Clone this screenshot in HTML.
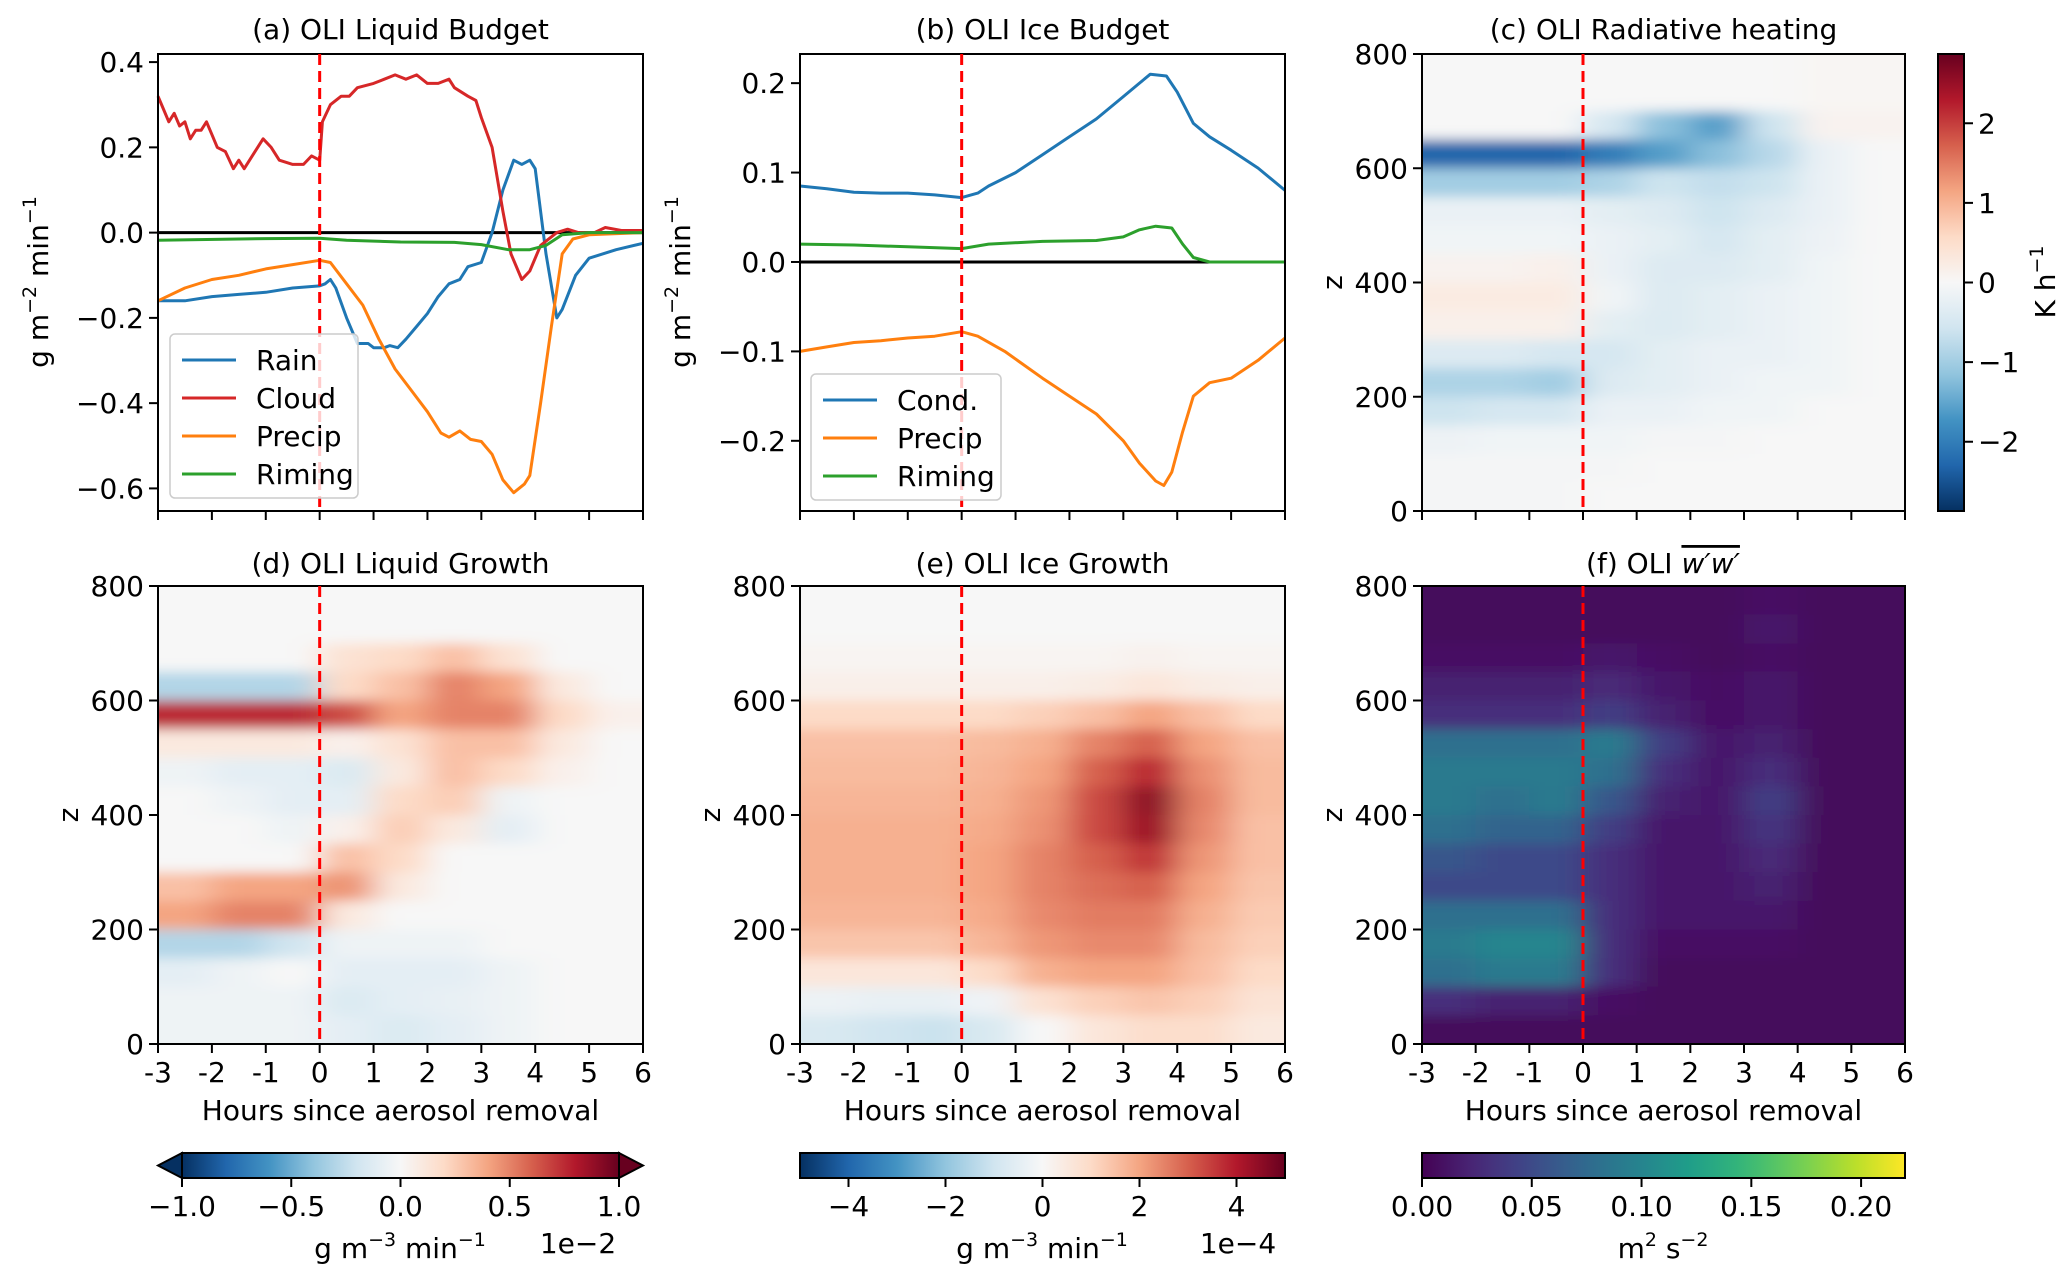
<!DOCTYPE html>
<html><head><meta charset="utf-8"><style>
html,body{margin:0;padding:0;background:#fff}
svg{display:block;font-family:"DejaVu Sans","Liberation Sans",sans-serif}
</style></head><body>
<svg id="fig" width="2067" height="1277" viewBox="0 0 2067 1277" xmlns="http://www.w3.org/2000/svg">
<defs><filter id="blur" x="-5%" y="-5%" width="110%" height="110%"><feGaussianBlur stdDeviation="16 6"/></filter></defs>
</svg>
<script>
// ---------- data ----------
const cloudT=[-3,-2.9,-2.8,-2.7,-2.6,-2.5,-2.4,-2.3,-2.2,-2.1,-2,-1.9,-1.75,-1.6,-1.5,-1.4,-1.2,-1.05,-0.9,-0.75,-0.5,-0.3,-0.15,0,0.05,0.2,0.4,0.55,0.7,1,1.2,1.4,1.6,1.8,2.0,2.2,2.4,2.5,2.75,2.9,3.0,3.2,3.4,3.55,3.75,3.9,4.1,4.4,4.6,4.8,5.1,5.3,5.6,6];
const cloudV=[0.32,0.29,0.26,0.28,0.25,0.26,0.22,0.24,0.24,0.26,0.23,0.2,0.19,0.15,0.17,0.15,0.19,0.22,0.2,0.17,0.16,0.16,0.18,0.17,0.26,0.3,0.32,0.32,0.34,0.35,0.36,0.37,0.36,0.37,0.35,0.35,0.36,0.34,0.32,0.31,0.27,0.2,0.05,-0.05,-0.11,-0.09,-0.03,0.0,0.008,0.0,0.0,0.012,0.005,0.005];
const rainT=[-3,-2.5,-2,-1.5,-1,-0.5,0,0.1,0.2,0.3,0.5,0.7,0.9,1.0,1.2,1.3,1.45,1.6,1.8,2.0,2.2,2.4,2.6,2.75,3.0,3.2,3.4,3.6,3.75,3.9,4.0,4.2,4.4,4.5,4.75,5.0,5.5,6];
const rainV=[-0.16,-0.16,-0.15,-0.145,-0.14,-0.13,-0.125,-0.12,-0.11,-0.13,-0.2,-0.26,-0.26,-0.27,-0.27,-0.265,-0.27,-0.25,-0.22,-0.19,-0.15,-0.12,-0.11,-0.08,-0.07,0.0,0.1,0.17,0.16,0.17,0.15,-0.05,-0.2,-0.18,-0.1,-0.06,-0.04,-0.025];
const precipT=[-3,-2.5,-2,-1.5,-1,-0.5,0,0.2,0.5,0.8,1.1,1.4,1.7,2.0,2.25,2.4,2.6,2.8,3.0,3.2,3.4,3.6,3.8,3.9,4.1,4.3,4.5,4.7,5,6];
const precipV=[-0.16,-0.13,-0.11,-0.1,-0.085,-0.075,-0.065,-0.07,-0.12,-0.17,-0.25,-0.32,-0.37,-0.42,-0.47,-0.48,-0.465,-0.485,-0.49,-0.52,-0.58,-0.61,-0.59,-0.57,-0.4,-0.22,-0.05,-0.015,-0.005,0];
const rimeT=[-3,-1,0,0.5,1.5,2.5,3.0,3.5,3.9,4.2,4.5,5,6];
const rimeV=[-0.018,-0.014,-0.013,-0.018,-0.022,-0.023,-0.028,-0.04,-0.04,-0.03,-0.005,0,0];
const condT=[-3,-2.5,-2,-1.5,-1,-0.5,0,0.3,0.5,1,1.5,2,2.5,3.0,3.3,3.5,3.8,4.0,4.3,4.6,5.0,5.5,6];
const condV=[0.085,0.082,0.078,0.077,0.077,0.075,0.072,0.077,0.085,0.1,0.12,0.14,0.16,0.185,0.2,0.21,0.208,0.19,0.155,0.14,0.125,0.105,0.08];
const iprecT=[-3,-2.5,-2,-1.5,-1,-0.5,0,0.3,0.8,1.5,2,2.5,3.0,3.3,3.6,3.75,3.9,4.1,4.3,4.6,5,5.5,6];
const iprecV=[-0.1,-0.095,-0.09,-0.088,-0.085,-0.083,-0.078,-0.083,-0.1,-0.13,-0.15,-0.17,-0.2,-0.225,-0.245,-0.25,-0.235,-0.19,-0.15,-0.135,-0.13,-0.11,-0.085];
const irimeT=[-3,-2,-1,0,0.5,1.5,2.5,3.0,3.3,3.6,3.9,4.1,4.3,4.6,6];
const irimeV=[0.02,0.019,0.017,0.015,0.02,0.023,0.024,0.028,0.036,0.04,0.038,0.02,0.005,0,0];

const colHours=[-2.5,-1.5,-0.5,0.5,1.5,2.5,3.5,4.5,5.5];
const rowZ=[775,725,675,625,575,525,475,425,375,325,275,225,175,125,75,25];
const radGrid=[
[0,0,0,0,0,0,0,0.05,0.05],
[0,0,0,0,0,0,0,0.05,0.05],
[0,0,0,-0.5,-1.2,-1.6,-0.6,0.1,0.1],
[-2.3,-2.3,-2.3,-2.0,-1.6,-1.2,-0.8,-0.2,0],
[-1.0,-1.0,-1.0,-0.9,-0.6,-0.7,-0.6,-0.2,0],
[-0.2,-0.2,-0.2,-0.3,-0.4,-0.6,-0.4,-0.2,0],
[-0.1,-0.1,-0.1,-0.2,-0.3,-0.5,-0.3,-0.15,0],
[0.1,0.1,0.15,-0.2,-0.4,-0.4,-0.3,-0.1,0],
[0.25,0.25,0.25,-0.1,-0.4,-0.3,-0.2,-0.1,0],
[0.15,0.15,0.15,-0.3,-0.4,-0.3,-0.2,-0.1,0],
[-0.4,-0.4,-0.5,-0.5,-0.3,-0.2,-0.2,-0.1,0],
[-0.9,-0.9,-1.0,-0.4,-0.3,-0.2,-0.1,-0.1,0],
[-0.6,-0.5,-0.5,-0.2,-0.2,-0.1,-0.1,0,0],
[-0.15,-0.1,-0.1,-0.1,-0.05,-0.05,0,0,0],
[-0.05,-0.05,-0.05,-0.05,0,0,0,0,0],
[-0.05,-0.05,-0.05,0,0,0,0,0,0]];
const liqGrid=[
[0,0,0,0,0,0,0,0,0],
[0,0,0,0,0,0,0,0,0],
[0,0,0,0.15,0.2,0.3,0.15,0,0],
[-0.3,-0.3,-0.3,0.2,0.3,0.5,0.4,0.1,0],
[0.75,0.75,0.75,0.65,0.4,0.5,0.5,0.2,0.05],
[0.1,0.1,0.1,0.05,0.15,0.3,0.3,0.1,0],
[-0.05,-0.1,-0.1,-0.15,0.1,0.3,0.2,0.05,0],
[0,-0.05,-0.1,-0.1,0.2,0.25,-0.05,0,0],
[0,0,-0.05,0.05,0.25,0.1,-0.1,0,0],
[0,0,0,0.3,0.2,0,0,0,0],
[0.3,0.4,0.4,0.45,0.1,0,0,0,0],
[0.4,0.5,0.5,0.1,0,0,0,0,0],
[-0.3,-0.3,-0.2,-0.05,-0.05,-0.05,0,0,0],
[-0.1,-0.05,0,-0.1,-0.1,-0.1,-0.05,0,0],
[-0.05,-0.05,-0.05,-0.15,-0.1,-0.08,-0.05,0,0],
[-0.05,-0.05,-0.05,-0.1,-0.15,-0.1,-0.05,0,0]];
const iceGrid=[
[0,0,0,0,0,0,0,0,0],
[0,0,0,0,0,0,0,0,0],
[0.1,0.1,0.1,0.1,0.1,0.1,0.2,0.1,0.1],
[0.3,0.3,0.3,0.3,0.3,0.4,0.6,0.4,0.3],
[1.0,1.0,1.0,1.0,1.2,1.5,2.0,1.5,1.0],
[1.5,1.5,1.5,1.6,1.8,2.5,3.0,2.0,1.5],
[1.6,1.6,1.6,1.7,2.0,3.0,3.8,2.3,1.6],
[1.7,1.7,1.7,1.8,2.2,3.3,4.5,2.5,1.6],
[1.8,1.8,1.8,1.9,2.3,3.3,4.3,2.4,1.5],
[1.8,1.8,1.8,2.0,2.5,3.0,3.6,2.2,1.5],
[1.8,1.8,1.8,2.0,2.5,2.8,3.0,2.0,1.4],
[1.7,1.7,1.7,1.9,2.4,2.6,2.6,1.8,1.3],
[1.4,1.4,1.4,1.7,2.2,2.4,2.4,1.6,1.2],
[0.6,0.6,0.6,1.0,1.8,2.0,2.0,1.5,1.0],
[-0.3,-0.4,-0.4,-0.2,0.8,1.2,1.4,1.2,0.7],
[-0.8,-1.0,-1.1,-0.8,0,0.6,0.9,0.9,0.5]];
const wwGrid=[
[0.005,0.005,0.005,0.005,0.005,0.005,0.01,0.005,0.005],
[0.005,0.005,0.005,0.005,0.005,0.005,0.015,0.005,0.005],
[0.01,0.01,0.01,0.015,0.01,0.005,0.01,0.005,0.005],
[0.02,0.02,0.02,0.025,0.015,0.01,0.015,0.005,0.005],
[0.03,0.03,0.03,0.04,0.02,0.01,0.015,0.005,0.005],
[0.08,0.08,0.08,0.09,0.04,0.015,0.02,0.005,0.005],
[0.09,0.09,0.09,0.08,0.03,0.015,0.03,0.005,0.005],
[0.09,0.08,0.09,0.06,0.02,0.015,0.04,0.005,0.005],
[0.08,0.07,0.07,0.04,0.015,0.015,0.035,0.005,0.005],
[0.06,0.05,0.05,0.03,0.015,0.015,0.025,0.005,0.005],
[0.05,0.05,0.05,0.03,0.015,0.015,0.02,0.005,0.005],
[0.08,0.08,0.08,0.03,0.015,0.015,0.015,0.005,0.005],
[0.09,0.10,0.10,0.03,0.01,0.01,0.01,0.005,0.005],
[0.08,0.09,0.09,0.03,0.005,0.005,0.005,0.005,0.005],
[0.03,0.02,0.02,0.01,0.005,0.005,0.005,0.005,0.005],
[0.005,0.005,0.005,0.005,0.005,0.005,0.005,0.005,0.005]];
const xTicks=[-3,-2,-1,0,1,2,3,4,5,6];
const zTicks=[0,200,400,600,800];
const aTicks=[0.4,0.2,0.0,-0.2,-0.4,-0.6];
const bTicks=[0.2,0.1,0.0,-0.1,-0.2];
const cTicks=[-2,-1,0,1,2];
const dTicks=[-1.0,-0.5,0.0,0.5,1.0];
const eTicks=[-4,-2,0,2,4];
const fTicks=[0.00,0.05,0.10,0.15,0.20];

const FS=28;
const NS="http://www.w3.org/2000/svg";
const svg=document.getElementById('fig');
function el(tag,attrs,parent){const e=document.createElementNS(NS,tag);for(const k in attrs)e.setAttribute(k,attrs[k]);(parent||svg).appendChild(e);return e;}
function txt(s,x,y,attrs){const t=el('text',Object.assign({x:x,y:y,'font-size':FS,fill:'#000'},attrs||{}));t.textContent=s;return t;}
function hex(h){return [parseInt(h.slice(1,3),16),parseInt(h.slice(3,5),16),parseInt(h.slice(5,7),16)];}
const RDBU=['#053061','#2166ac','#4393c3','#92c5de','#d1e5f0','#f7f7f7','#fddbc7','#f4a582','#d6604d','#b2182b','#67001f'].map(hex);
const VIR=['#440154','#482878','#3e4989','#31688e','#26828e','#1f9e89','#35b779','#6ece58','#b5de2b','#fde725'].map(hex);
function cmap(stops,t){t=Math.max(0,Math.min(1,t));const n=stops.length-1;const i=Math.min(n-1,Math.floor(t*n));const f=t*n-i;const a=stops[i],b=stops[i+1];return 'rgb('+a.map((v,k)=>Math.round(v+(b[k]-v)*f)).join(',')+')';}
function fmt(v,d){const s=v.toFixed(d);return v<0?'\u2212'+s.slice(1):s;}

const COLS=[[158,643],[800,1285],[1422,1905]];
const ROWS=[[54,511],[586,1044]];
const XMIN=-3,XMAX=6;
function xs(c,h){const[a,b]=COLS[c];return a+(h-XMIN)/(XMAX-XMIN)*(b-a);}
function ysc(r,v,lo,hi){const[a,b]=ROWS[r];return b-(v-lo)/(hi-lo)*(b-a);}

function frame(c,r,name){
  const[x0,x1]=COLS[c],[y0,y1]=ROWS[r];
  const g=el('rect',{x:x0,y:y0,width:x1-x0,height:y1-y0,fill:'none',stroke:'#000','stroke-width':2});
  
  xTicks.forEach(h=>{const X=xs(c,h);el('line',{x1:X,x2:X,y1:y1,y2:y1+9,stroke:'#000','stroke-width':2});
    if(r===1){const t=txt(String(h),X,y1+38,{'text-anchor':'middle'});}});
  if(r===1){const t=txt('Hours since aerosol removal',(x0+x1)/2,1120,{'text-anchor':'middle'});}
  const X0=xs(c,0);const d=el('line',{x1:X0,x2:X0,y1:y0,y2:y1,stroke:'#ff0000','stroke-width':3,'stroke-dasharray':'11,6'});
  
}
function title(c,r,s,name){const[x0,x1]=COLS[c];const y=r===0?39:573;const t=txt(s,(x0+x1)/2,y,{'text-anchor':'middle'});return t;}
function yTicksZ(c,r){const[x0]=COLS[c];zTicks.forEach(z=>{const Y=ysc(r,z,0,800);el('line',{x1:x0-9,x2:x0,y1:Y,y2:Y,stroke:'#000','stroke-width':2});const t=txt(String(z),x0-14,Y+10,{'text-anchor':'end'});});
  const yl=txt('z',0,0,{'text-anchor':'middle',transform:'translate('+(x0-80)+','+((ROWS[r][0]+ROWS[r][1])/2)+') rotate(-90)'});}

function heat(c,r,grid,stops,vmin,vmax,name){
  const[x0,x1]=COLS[c],[y0,y1]=ROWS[r];
  const cid='clip'+c+r;const cp=el('clipPath',{id:cid});el('rect',{x:x0,y:y0,width:x1-x0,height:y1-y0},cp);
  const g=el('g',{'clip-path':'url(#'+cid+')'});
  
  el('rect',{x:x0,y:y0,width:x1-x0,height:y1-y0,fill:cmap(stops,(grid[0][8]-vmin)/(vmax-vmin))},g);
  const inner=el('g',{filter:'url(#blur)'},g);
  const cw=xs(c,1)-xs(c,0);const ch=ysc(r,0,0,800)-ysc(r,50,0,800);
  grid.forEach((row,i)=>row.forEach((v,j)=>{
    let cx=xs(c,colHours[j])-cw/2, cy=ysc(r,rowZ[i],0,800)-ch/2, w=cw, h=ch;
    if(j===0){cx-=40;w+=40;} if(j===row.length-1){w+=40;}
    if(i===0){cy-=40;h+=40;} if(i===grid.length-1){h+=40;}
    const rc=el('rect',{x:cx,y:cy,width:w+0.5,height:h+0.5,fill:cmap(stops,(v-vmin)/(vmax-vmin))},inner);
    
    
  }));
}
function line(c,r,T,V,lo,hi,color,name){
  const pts=T.map((t,i)=>xs(c,t).toFixed(1)+','+ysc(r,V[i],lo,hi).toFixed(1)).join(' ');
  const p=el('polyline',{points:pts,fill:'none',stroke:color,'stroke-width':3,'stroke-linejoin':'round'});
  
}
function legend(x,y,w,items,name){
  const g=el('g',{});
  el('rect',{x:x,y:y,width:w,height:items.length*38+12,rx:5,fill:'#fff','fill-opacity':0.8,stroke:'#ccc','stroke-width':1.5},g);
  items.forEach((it,i)=>{const Y=y+26+i*38;el('line',{x1:x+12,x2:x+66,y1:Y,y2:Y,stroke:it[1],'stroke-width':3},g);
    const t=txt(it[0],x+86,Y+10,{});g.appendChild(t);});
}
function unitLabel(x,y,rot,name,parts){
  const t=el('text',{x:0,y:0,'font-size':FS,'text-anchor':'middle',transform:'translate('+x+','+y+')'+(rot?' rotate(-90)':'')});
  parts.forEach(p=>{const s=el('tspan',p[1]?{'font-size':19,dy:-12}:{dy:p[2]||0},t);s.textContent=p[0];});
  return t;
}

{const lo=-0.653,hi=0.419;const[x0]=COLS[0];
 el('line',{x1:COLS[0][0],x2:COLS[0][1],y1:ysc(0,0,lo,hi),y2:ysc(0,0,lo,hi),stroke:'#000','stroke-width':3});
 line(0,0,rainT,rainV,lo,hi,'#1f77b4','rain-line');
 line(0,0,cloudT,cloudV,lo,hi,'#d62728','cloud-line');
 line(0,0,precipT,precipV,lo,hi,'#ff7f0e','precip-line');
 line(0,0,rimeT,rimeV,lo,hi,'#2ca02c','riming-line');
 frame(0,0,'panel-a');
 aTicks.forEach(v=>{const Y=ysc(0,v,lo,hi);el('line',{x1:x0-9,x2:x0,y1:Y,y2:Y,stroke:'#000','stroke-width':2});const t=txt(fmt(v,1),x0-14,Y+10,{'text-anchor':'end'});});
 legend(170,334,188,[['Rain','#1f77b4'],['Cloud','#d62728'],['Precip','#ff7f0e'],['Riming','#2ca02c']],'legend-a');
 unitLabel(48,282,true,'y-axis-title',[['g m'],['\u22122',1],[' min',0,12],['\u22121',1]]);
 title(0,0,'(a) OLI Liquid Budget','title-a');}
{const lo=-0.2785,hi=0.2326;const[x0]=COLS[1];
 el('line',{x1:COLS[1][0],x2:COLS[1][1],y1:ysc(0,0,lo,hi),y2:ysc(0,0,lo,hi),stroke:'#000','stroke-width':3});
 line(1,0,condT,condV,lo,hi,'#1f77b4','cond-line');
 line(1,0,iprecT,iprecV,lo,hi,'#ff7f0e','ice-precip-line');
 line(1,0,irimeT,irimeV,lo,hi,'#2ca02c','ice-riming-line');
 frame(1,0,'panel-b');
 bTicks.forEach(v=>{const Y=ysc(0,v,lo,hi);el('line',{x1:x0-9,x2:x0,y1:Y,y2:Y,stroke:'#000','stroke-width':2});const t=txt(fmt(v,1),x0-14,Y+10,{'text-anchor':'end'});});
 legend(811,374,190,[['Cond.','#1f77b4'],['Precip','#ff7f0e'],['Riming','#2ca02c']],'legend-b');
 unitLabel(690,282,true,'y-axis-title',[['g m'],['\u22122',1],[' min',0,12],['\u22121',1]]);
 title(1,0,'(b) OLI Ice Budget','title-b');}
heat(2,0,radGrid,RDBU,-2.87,2.87,'radiative-heating-heatmap');frame(2,0,'panel-c');yTicksZ(2,0);title(2,0,'(c) OLI Radiative heating','title-c');
{const x=1938,w=26,y0=54,y1=511,vmin=-2.87,vmax=2.87;
 const gr=el('linearGradient',{id:'gc',x1:0,y1:1,x2:0,y2:0},svg.querySelector('defs'));
 for(let i=0;i<=20;i++)el('stop',{offset:i/20,'stop-color':cmap(RDBU,i/20)},gr);
 const r=el('rect',{x:x,y:y0,width:w,height:y1-y0,fill:'url(#gc)',stroke:'#000','stroke-width':2});
 cTicks.forEach(v=>{const Y=y1-(v-vmin)/(vmax-vmin)*(y1-y0);el('line',{x1:x+w,x2:x+w+9,y1:Y,y2:Y,stroke:'#000','stroke-width':2});const t=txt(fmt(v,0),x+w+14,Y+10,{});});
 unitLabel(2055,282,true,'colorbar-c-label',[['K h'],['\u22121',1]]);}
heat(0,1,liqGrid,RDBU,-1,1,'liquid-growth-heatmap');frame(0,1,'panel-d');yTicksZ(0,1);title(0,1,'(d) OLI Liquid Growth','title-d');
heat(1,1,iceGrid,RDBU,-5,5,'ice-growth-heatmap');frame(1,1,'panel-e');yTicksZ(1,1);title(1,1,'(e) OLI Ice Growth','title-e');
heat(2,1,wwGrid,VIR,0,0.22,'wprime-heatmap');frame(2,1,'panel-f');yTicksZ(2,1);
{const t=el('text',{x:1663,y:573,'font-size':FS,'text-anchor':'middle'});
 const a=el('tspan',{},t);a.textContent='(f) OLI ';const b=el('tspan',{'font-style':'italic','text-decoration':'overline'},t);b.textContent="w\u2032w\u2032";}

function hbar(id,x0,x1,stops,vmin,vmax,ticks,dec,ext,name){
  const y0=1153,y1=1178;
  const gr=el('linearGradient',{id:id,x1:0,y1:0,x2:1,y2:0},svg.querySelector('defs'));
  for(let i=0;i<=20;i++)el('stop',{offset:i/20,'stop-color':cmap(stops,i/20)},gr);
  let bx0=x0,bx1=x1;
  if(ext){bx0=x0+24;bx1=x1-24;
    el('polygon',{points:x0+','+((y0+y1)/2)+' '+bx0+','+y0+' '+bx0+','+y1,fill:cmap(stops,0),stroke:'#000','stroke-width':2});
    el('polygon',{points:x1+','+((y0+y1)/2)+' '+bx1+','+y0+' '+bx1+','+y1,fill:cmap(stops,1),stroke:'#000','stroke-width':2});}
  const r=el('rect',{x:bx0,y:y0,width:bx1-bx0,height:y1-y0,fill:'url(#'+id+')',stroke:'#000','stroke-width':2});
  
  ticks.forEach(v=>{const X=bx0+(v-vmin)/(vmax-vmin)*(bx1-bx0);el('line',{x1:X,x2:X,y1:y1,y2:y1+9,stroke:'#000','stroke-width':2});
    const t=txt(dec<0?String(v).replace('-','\u2212'):fmt(v,dec),X,y1+38,{'text-anchor':'middle'});});
}
hbar('gd',158,643,RDBU,-1,1,dTicks,1,true,'colorbar-d');
hbar('ge',800,1285,RDBU,-5,5,eTicks,-1,false,'colorbar-e');
hbar('gf',1422,1905,VIR,0,0.22,fTicks,2,false,'colorbar-f');
unitLabel(400,1258,false,'colorbar-d-label',[['g m'],['\u22123',1],[' min',0,12],['\u22121',1]]);
unitLabel(1042,1258,false,'colorbar-e-label',[['g m'],['\u22123',1],[' min',0,12],['\u22121',1]]);
unitLabel(1663,1258,false,'colorbar-f-label',[['m'],['2',1],[' s',0,12],['\u22122',1]]);
{const t=txt('1e\u22122',578,1253,{'text-anchor':'middle'});
 const u=txt('1e\u22124',1238,1253,{'text-anchor':'middle'});}
</script>
</body></html>
